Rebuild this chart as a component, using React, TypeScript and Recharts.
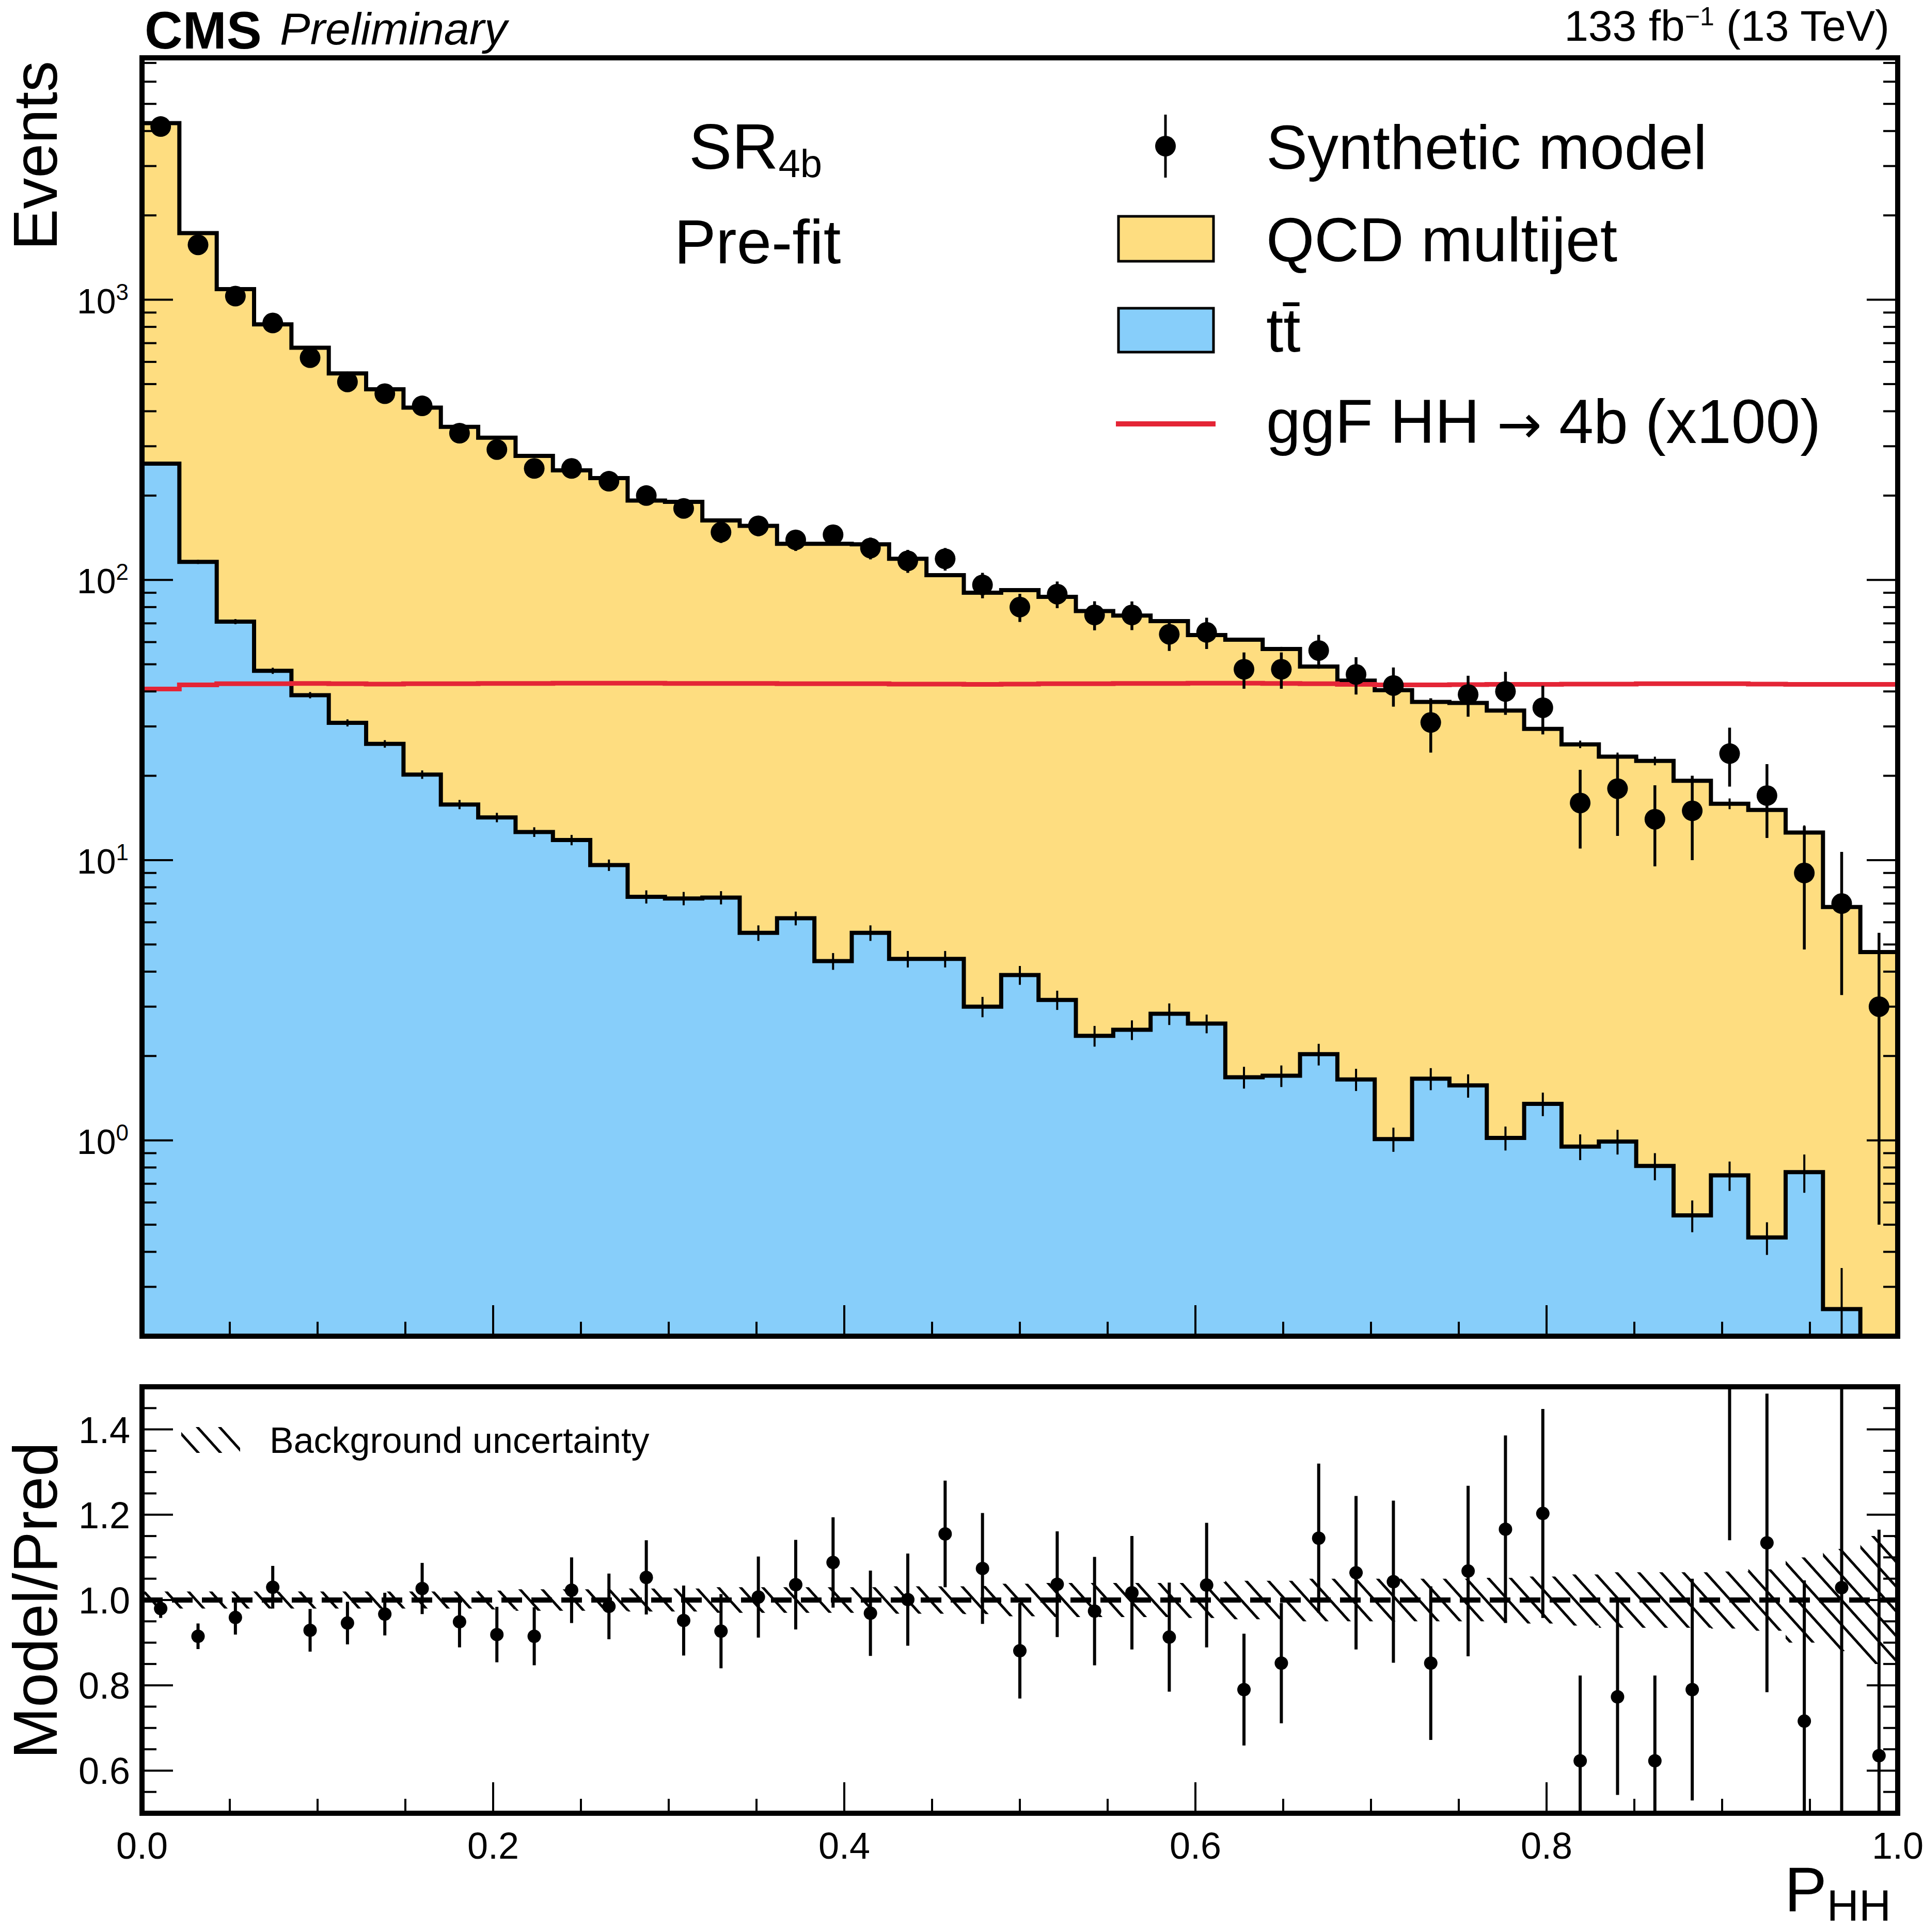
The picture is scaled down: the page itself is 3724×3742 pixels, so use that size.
import React from "react"
import { ComposedChart, Area, Line, Scatter, ErrorBar, XAxis, YAxis, ReferenceLine } from "recharts"

const N_BINS = 47

// synthetic model (pseudo-data), events per bin of P_HH
const modelEvents = [4150, 1570, 1030, 826, 621, 509, 462, 418, 334, 292, 250, 250, 225, 200, 180, 148, 156, 139, 145, 130, 117, 119, 96, 80, 89, 75, 75, 64, 65, 48, 48, 56, 46, 42, 31, 39, 40, 35, 16, 18, 14, 15, 24, 17, 9, 7, 3]
const modelErr = [66, 40, 32, 29, 25, 23, 22, 21, 18.5, 17.5, 16, 16, 15, 14.5, 13.5, 12.5, 12.8, 12.1, 12.3, 11.6, 11, 11, 10, 9.2, 9.7, 8.9, 8.8, 8.2, 8.3, 7.1, 7.1, 7.7, 7, 6.7, 6.8, 6.5, 7, 6.9, 5, 5.8, 4.5, 5, 5.7, 5, 4.2, 3.7, 2.5]

// top of the stack (QCD multijet on top of ttbar)
const stackTop = [4270, 1729, 1091, 817, 674, 546, 479, 412, 352, 322, 277, 246, 231, 192, 190, 163, 156, 134.6, 134.6, 134, 119, 104, 90, 92, 87, 77.4, 74.6, 71.3, 63.6, 61.2, 56.7, 49.1, 43.7, 40.4, 36.7, 36.4, 34.2, 29.4, 25.9, 23.4, 22.6, 19.2, 15.9, 15.1, 12.55, 6.8, 4.7]
const stackErr = [8, 5, 4, 3.5, 3, 2.8, 2.6, 2.4, 2.2, 2.1, 1.9, 1.8, 1.8, 1.6, 1.6, 1.5, 1.5, 1.4, 1.4, 1.4, 1.3, 1.3, 1.2, 1.2, 1.2, 1.1, 1.1, 1.1, 1.0, 1.0, 1.0, 0.9, 0.9, 0.9, 0.9, 0.9, 0.8, 0.8, 0.8, 0.8, 0.8, 0.7, 0.7, 0.7, 0.75, 0.6, 0.5]

const ttbarEvents = [260, 116, 71, 47.4, 38.8, 30.9, 26, 20.2, 15.8, 14.2, 12.6, 11.8, 9.6, 7.4, 7.3, 7.35, 5.5, 6.2, 4.36, 5.5, 4.44, 4.44, 3.0, 3.89, 3.17, 2.36, 2.48, 2.83, 2.61, 1.68, 1.7, 2.03, 1.65, 1.01, 1.66, 1.57, 1.02, 1.35, 0.95, 0.99, 0.81, 0.54, 0.75, 0.45, 0.77, 0.25, 0.12]
const ttbarErr = [3, 2, 1.5, 1.2, 1, 0.9, 0.8, 0.7, 0.6, 0.55, 0.5, 0.5, 0.45, 0.4, 0.4, 0.4, 0.35, 0.35, 0.3, 0.35, 0.3, 0.3, 0.25, 0.3, 0.25, 0.2, 0.2, 0.25, 0.2, 0.15, 0.15, 0.18, 0.15, 0.1, 0.15, 0.15, 0.1, 0.13, 0.1, 0.1, 0.09, 0.07, 0.09, 0.06, 0.12, 0.1, 0.05]

// ggF HH -> 4b, scaled x100
const ggfHH = [40.8, 42.2, 42.6, 42.6, 42.7, 42.6, 42.5, 42.6, 42.6, 42.7, 42.7, 42.8, 42.8, 42.8, 42.7, 42.7, 42.7, 42.6, 42.6, 42.6, 42.5, 42.5, 42.4, 42.5, 42.6, 42.6, 42.7, 42.7, 42.8, 42.8, 42.7, 42.6, 42.4, 42.2, 42.2, 42.3, 42.4, 42.4, 42.5, 42.5, 42.6, 42.6, 42.6, 42.5, 42.4, 42.4, 42.4]

// lower panel
const ratioValues = [0.98, 0.915, 0.959, 1.03, 0.929, 0.946, 0.967, 1.027, 0.949, 0.919, 0.915, 1.023, 0.985, 1.053, 0.952, 0.927, 1.007, 1.036, 1.088, 0.969, 1.001, 1.155, 1.074, 0.881, 1.037, 0.974, 1.017, 0.913, 1.035, 0.79, 0.852, 1.145, 1.064, 1.043, 0.852, 1.068, 1.166, 1.203, 0.623, 0.773, 0.623, 0.79, 1.52, 1.134, 0.716, 1.029, 0.635]
const ratioErr = [0.022, 0.03, 0.04, 0.05, 0.05, 0.05, 0.05, 0.06, 0.06, 0.065, 0.068, 0.077, 0.077, 0.087, 0.082, 0.087, 0.095, 0.105, 0.106, 0.1, 0.108, 0.125, 0.13, 0.112, 0.124, 0.127, 0.133, 0.128, 0.146, 0.131, 0.141, 0.175, 0.18, 0.19, 0.18, 0.2, 0.22, 0.245, 0.2, 0.23, 0.2, 0.26, 0.38, 0.35, 0.33, 0.6, 0.53]
const bkgUnc = [0.02, 0.02, 0.02, 0.02, 0.02, 0.02, 0.02, 0.02, 0.02, 0.022, 0.025, 0.025, 0.025, 0.027, 0.027, 0.03, 0.03, 0.03, 0.03, 0.03, 0.032, 0.032, 0.033, 0.038, 0.04, 0.04, 0.04, 0.04, 0.042, 0.045, 0.045, 0.05, 0.05, 0.05, 0.05, 0.05, 0.052, 0.055, 0.06, 0.065, 0.065, 0.065, 0.067, 0.072, 0.1, 0.12, 0.15]

const xTicks = [0, 0.05, 0.1, 0.15, 0.2, 0.25, 0.3, 0.35, 0.4, 0.45, 0.5, 0.55, 0.6, 0.65, 0.7, 0.75, 0.8, 0.85, 0.9, 0.95, 1]
const logTicks = [0.2, 0.3, 0.4, 0.5, 0.6, 0.7, 0.8, 0.9, 1, 2, 3, 4, 5, 6, 7, 8, 9, 10, 20, 30, 40, 50, 60, 70, 80, 90, 100, 200, 300, 400, 500, 600, 700, 800, 900, 1000, 2000, 3000, 4000, 5000, 6000, 7000]
const ratioTicks = [0.5, 0.55, 0.6, 0.65, 0.7, 0.75, 0.8, 0.85, 0.9, 0.95, 1, 1.05, 1.1, 1.15, 1.2, 1.25, 1.3, 1.35, 1.4, 1.45, 1.5]

const FONT = '"Liberation Sans", Arial, Helvetica, sans-serif'
const QCD_COLOR = "#fedd80"
const TT_COLOR = "#87cefa"
const HH_COLOR = "#e42536"

const W = 3724
const H_PAGE = 3742
const PLOT_LEFT = 275
const PLOT_RIGHT = 3675
const MAIN_TOP = 112
const MAIN_BOTTOM = 2588
const RATIO_TOP = 2686
const RATIO_BOTTOM = 3512
const LOG_DOMAIN = [0.2, 7300]
const RATIO_DOMAIN = [0.5, 1.5]
const FRAME = { stroke: "#000", strokeWidth: 10, strokeLinecap: "square" as const }

const steps = (vals: number[]) => [
  ...vals.map((v, i) => ({ x: i / N_BINS, y: v })),
  { x: 1, y: vals[vals.length - 1] },
]
const centres = (vals: number[], errs: number[]) =>
  vals.map((v, i) => ({ x: (i + 0.5) / N_BINS, y: v, err: errs[i] }))

const stackSteps = steps(stackTop)
const ttSteps = steps(ttbarEvents)
const hhSteps = steps(ggfHH)
const modelPts = centres(modelEvents, modelErr)
const stackPts = centres(stackTop, stackErr)
const ttPts = centres(ttbarEvents, ttbarErr)
const ratioPts = centres(ratioValues, ratioErr)
const bandSteps = [
  ...bkgUnc.map((u, i) => ({ x: i / N_BINS, band: [1 - u, 1 + u] })),
  { x: 1, band: [1 - bkgUnc[bkgUnc.length - 1], 1 + bkgUnc[bkgUnc.length - 1]] },
]

type Side = "left" | "right" | "top" | "bottom"

function makeTick(side: Side, isMajor: (v: number) => boolean, label?: (x: number, y: number, v: number) => React.ReactNode) {
  return (props: any) => {
    const { x, y, payload } = props
    const v = payload.value
    const major = isMajor(v)
    const len = major ? 60 : 28
    let x2 = x
    let y2 = y
    if (side === "left") x2 = x + len
    if (side === "right") x2 = x - len
    if (side === "top") y2 = y + len
    if (side === "bottom") y2 = y - len
    return (
      <g>
        <line x1={x} y1={y} x2={x2} y2={y2} stroke="#000" strokeWidth={4} />
        {major && label ? label(x, y, v) : null}
      </g>
    )
  }
}

const majorX = (v: number) => Math.round(v * 100) % 20 === 0
const majorLog = (v: number) => Math.abs(Math.log10(v) - Math.round(Math.log10(v))) < 1e-6
const majorRatio = (v: number) => Math.round(v * 100) % 20 === 0

const logLabel = (x: number, y: number, v: number) => (
  <text x={x - 26} y={y + 26} textAnchor="end" fontSize={68} fontFamily={FONT} fill="#000">
    10<tspan dy={-26} fontSize={44}>{Math.round(Math.log10(v))}</tspan>
  </text>
)
const ratioLabel = (x: number, y: number, v: number) => (
  <text x={x - 23} y={y + 26} textAnchor="end" fontSize={72} fontFamily={FONT} fill="#000">
    {v.toFixed(1)}
  </text>
)
const xLabel = (x: number, y: number, v: number) => (
  <text x={x} y={y + 88} textAnchor="middle" fontSize={72} fontFamily={FONT} fill="#000">
    {v.toFixed(1)}
  </text>
)

const dot = (r: number) => (p: any) => <circle cx={p.cx} cy={p.cy} r={r} fill="#000" />
const noDot = () => <g />

const axisCommon = { tickLine: false, tickSize: 0, tickMargin: 0, interval: 0 as const, allowDataOverflow: true }

// series layers: the svg ends 5px outside the frame, so anything past the frame is cut by the svg itself
function MainSeries() {
  const H = MAIN_BOTTOM + 5
  return (
    <ComposedChart width={W} height={H} margin={{ top: MAIN_TOP, right: W - PLOT_RIGHT, bottom: 5, left: PLOT_LEFT }}>
      <XAxis dataKey="x" type="number" domain={[0, 1]} hide allowDataOverflow />
      <YAxis scale="log" type="number" domain={LOG_DOMAIN} hide allowDataOverflow />
      <Area data={stackSteps} dataKey="y" type="stepAfter" fill={QCD_COLOR} fillOpacity={1} stroke="#000" strokeWidth={8} isAnimationActive={false} />
      <Area data={ttSteps} dataKey="y" type="stepAfter" fill={TT_COLOR} fillOpacity={1} stroke="#000" strokeWidth={8} isAnimationActive={false} />
      <Scatter data={stackPts} dataKey="y" shape={noDot} isAnimationActive={false}>
        <ErrorBar dataKey="err" direction="y" width={0} stroke="#000" strokeWidth={4} />
      </Scatter>
      <Scatter data={ttPts} dataKey="y" shape={noDot} isAnimationActive={false}>
        <ErrorBar dataKey="err" direction="y" width={0} stroke="#000" strokeWidth={4} />
      </Scatter>
      <Line data={hhSteps} dataKey="y" type="stepAfter" stroke={HH_COLOR} strokeWidth={9} dot={false} isAnimationActive={false} />
      <Scatter data={modelPts} dataKey="y" shape={dot(20)} isAnimationActive={false}>
        <ErrorBar dataKey="err" direction="y" width={0} stroke="#000" strokeWidth={5.5} />
      </Scatter>
    </ComposedChart>
  )
}

function RatioSeries() {
  const H = RATIO_BOTTOM - RATIO_TOP + 10
  return (
    <ComposedChart width={W} height={H} margin={{ top: 5, right: W - PLOT_RIGHT, bottom: 5, left: PLOT_LEFT }}>
      <XAxis dataKey="x" type="number" domain={[0, 1]} hide allowDataOverflow />
      <YAxis type="number" domain={RATIO_DOMAIN} hide allowDataOverflow />
      <Area data={bandSteps} dataKey="band" type="stepAfter" fill="url(#bkgHatch)" fillOpacity={1} stroke="none" isAnimationActive={false} />
      <ReferenceLine y={1} stroke="#000" strokeWidth={10} strokeDasharray="40 18" />
      <Scatter data={ratioPts} dataKey="y" shape={dot(13)} isAnimationActive={false}>
        <ErrorBar dataKey="err" direction="y" width={0} stroke="#000" strokeWidth={6} />
      </Scatter>
    </ComposedChart>
  )
}

// frame, ticks and tick labels, drawn above the series
function MainAxes() {
  const H = 2700
  return (
    <ComposedChart width={W} height={H} margin={{ top: MAIN_TOP - 1, right: W - PLOT_RIGHT - 1, bottom: H - MAIN_BOTTOM - 1, left: PLOT_LEFT - 1 }}>
      <XAxis dataKey="x" type="number" domain={[0, 1]} ticks={xTicks} height={1} axisLine={FRAME} tick={makeTick("bottom", majorX)} {...axisCommon} />
      <XAxis xAxisId="top" orientation="top" type="number" domain={[0, 1]} ticks={xTicks} height={1} axisLine={FRAME} tick={makeTick("top", majorX)} {...axisCommon} />
      <YAxis scale="log" type="number" domain={LOG_DOMAIN} ticks={logTicks} width={1} axisLine={FRAME} tick={makeTick("left", majorLog, logLabel)} {...axisCommon} />
      <YAxis yAxisId="right" orientation="right" scale="log" type="number" domain={LOG_DOMAIN} ticks={logTicks} width={1} axisLine={FRAME} tick={makeTick("right", majorLog)} {...axisCommon} />
    </ComposedChart>
  )
}

function RatioAxes() {
  const top = 2600
  const H = H_PAGE - top
  return (
    <ComposedChart width={W} height={H} margin={{ top: RATIO_TOP - top - 1, right: W - PLOT_RIGHT - 1, bottom: H_PAGE - RATIO_BOTTOM - 1, left: PLOT_LEFT - 1 }}>
      <XAxis dataKey="x" type="number" domain={[0, 1]} ticks={xTicks} height={1} axisLine={FRAME} tick={makeTick("bottom", majorX, xLabel)} {...axisCommon} />
      <XAxis xAxisId="top" orientation="top" type="number" domain={[0, 1]} ticks={xTicks} height={1} axisLine={FRAME} tick={makeTick("top", majorX)} {...axisCommon} />
      <YAxis type="number" domain={RATIO_DOMAIN} ticks={ratioTicks} width={1} axisLine={FRAME} tick={makeTick("left", majorRatio, ratioLabel)} {...axisCommon} />
      <YAxis yAxisId="right" orientation="right" type="number" domain={RATIO_DOMAIN} ticks={ratioTicks} width={1} axisLine={FRAME} tick={makeTick("right", majorRatio)} {...axisCommon} />
    </ComposedChart>
  )
}

function Annotations() {
  return (
    <svg width={W} height={H_PAGE} style={{ position: "absolute", left: 0, top: 0, pointerEvents: "none" }} fontFamily={FONT}>
      {/* header */}
      <text x={280} y={94} fontSize={102} fontWeight={700}>CMS</text>
      <text x={542} y={86} fontSize={88} fontStyle="italic">Preliminary</text>
      <text x={3659} y={79} fontSize={84} textAnchor="end">
        133 fb<tspan dy={-30} fontSize={50}>−1</tspan><tspan dy={30}> (13 TeV)</tspan>
      </text>

      {/* axis titles */}
      <text transform="translate(110,118) rotate(-90)" fontSize={120} textAnchor="end">Events</text>
      <text transform="translate(110,2793) rotate(-90)" fontSize={120} textAnchor="end">Model/Pred</text>
      <text x={3662} y={3702} fontSize={123} textAnchor="end">
        P<tspan dy={18} fontSize={86}>HH</tspan>
      </text>

      {/* region labels */}
      <text x={1463} y={327} fontSize={125} textAnchor="middle">
        SR<tspan dy={16} fontSize={76}>4b</tspan>
      </text>
      <text x={1467} y={510} fontSize={121} textAnchor="middle">Pre-fit</text>

      {/* legend */}
      <line x1={2257} y1={222} x2={2257} y2={344} stroke="#000" strokeWidth={5} />
      <circle cx={2257} cy={283} r={20} fill="#000" />
      <text x={2452} y={327} fontSize={120}>Synthetic model</text>
      <rect x={2166} y={419} width={184} height={87} fill={QCD_COLOR} stroke="#000" strokeWidth={5} />
      <text x={2452} y={506} fontSize={120}>QCD multijet</text>
      <rect x={2166} y={597} width={184} height={85} fill={TT_COLOR} stroke="#000" strokeWidth={5} />
      <text x={2452} y={681} fontSize={120}>tt̄</text>
      <line x1={2161} y1={821} x2={2354} y2={821} stroke={HH_COLOR} strokeWidth={10} />
      <text x={2452} y={858} fontSize={120}>
        ggF HH <tspan fontFamily='"DejaVu Sans", sans-serif' fontSize={104}>→</tspan> 4b (x100)
      </text>

      {/* ratio legend */}
      <rect x={351} y={2764} width={114} height={50} fill="url(#bkgHatch)" />
      <text x={522} y={2814} fontSize={70}>Background uncertainty</text>
    </svg>
  )
}

export default function App() {
  return (
    <div style={{ position: "absolute", left: 0, top: 0, width: W, height: H_PAGE, background: "#fff", fontFamily: FONT }}>
      <svg width={0} height={0} style={{ position: "absolute" }}>
        <defs>
          <pattern id="bkgHatch" patternUnits="userSpaceOnUse" width={32} height={32} patternTransform="rotate(-42)">
            <rect x={0} y={0} width={5} height={32} fill="#000" />
          </pattern>
        </defs>
      </svg>
      <div style={{ position: "absolute", left: 0, top: 0 }}>
        <MainSeries />
      </div>
      <div style={{ position: "absolute", left: 0, top: RATIO_TOP - 5 }}>
        <RatioSeries />
      </div>
      <div style={{ position: "absolute", left: 0, top: 0, pointerEvents: "none" }}>
        <MainAxes />
      </div>
      <div style={{ position: "absolute", left: 0, top: 2600, pointerEvents: "none" }}>
        <RatioAxes />
      </div>
      <Annotations />
    </div>
  )
}
